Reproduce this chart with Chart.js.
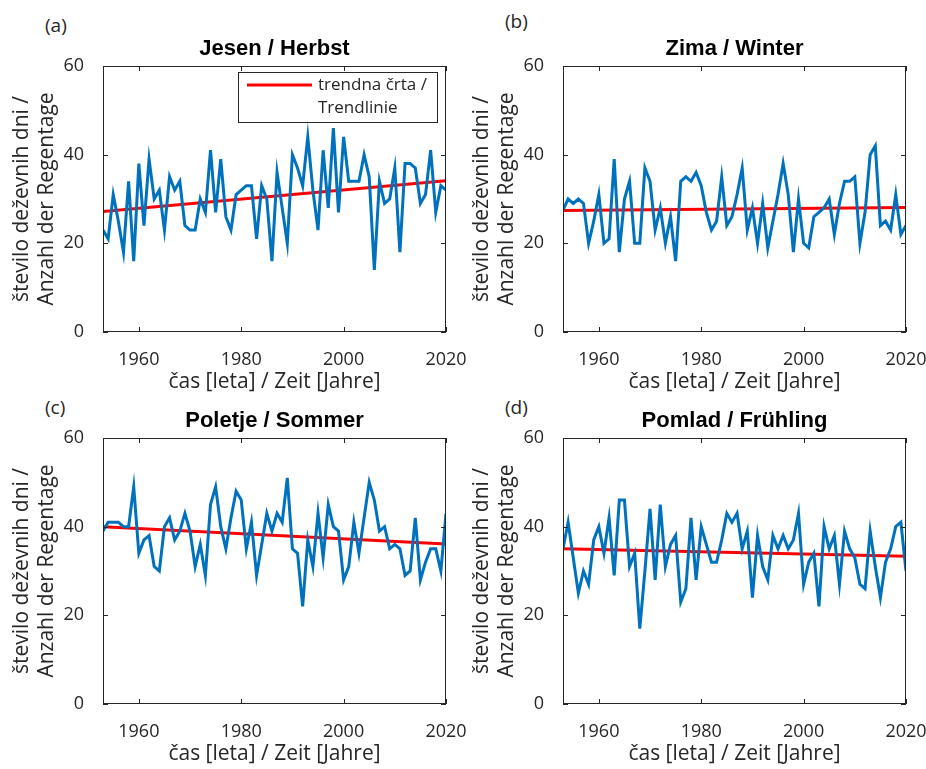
<!DOCTYPE html>
<html>
<head>
<meta charset="utf-8">
<script src="https://cdn.jsdelivr.net/npm/chart.js@4.4.1/dist/chart.umd.min.js"></script>
<style>
  body { margin: 0; background: #fff; width: 926px; height: 769px; position: relative; overflow: hidden; }
  canvas { position: absolute; }
  .lbl { position: absolute; font-family: "Open Sans", sans-serif; font-size: 19px; line-height: 1; color: #262626; }
</style>
</head>
<body>
<div class="lbl" style="left:45px;top:16px">(a)</div>
<div class="lbl" style="left:505px;top:12px">(b)</div>
<div class="lbl" style="left:45px;top:398px">(c)</div>
<div class="lbl" style="left:505px;top:398px">(d)</div>
<canvas id="jesen" width="480" height="397" style="left:0;top:0"></canvas>
<canvas id="zima" width="480" height="397" style="left:460px;top:0"></canvas>
<canvas id="poletje" width="480" height="397" style="left:0;top:372px"></canvas>
<canvas id="pomlad" width="480" height="397" style="left:460px;top:372px"></canvas>
<script>
const years = [1953, 1954, 1955, 1956, 1957, 1958, 1959, 1960, 1961, 1962,
  1963, 1964, 1965, 1966, 1967, 1968, 1969, 1970, 1971, 1972,
  1973, 1974, 1975, 1976, 1977, 1978, 1979, 1980, 1981, 1982,
  1983, 1984, 1985, 1986, 1987, 1988, 1989, 1990, 1991, 1992,
  1993, 1994, 1995, 1996, 1997, 1998, 1999, 2000, 2001, 2002,
  2003, 2004, 2005, 2006, 2007, 2008, 2009, 2010, 2011, 2012,
  2013, 2014, 2015, 2016, 2017, 2018, 2019, 2020];

// rainy days per season
const jesen = [23, 21, 31, 25, 18, 34, 16, 38, 24, 39,
  30, 32, 23, 35, 32, 34, 24, 23, 23, 30,
  27, 41, 27, 39, 26, 23, 31, 32, 33, 33,
  21, 33, 30, 16, 36, 28, 20, 40, 37, 33,
  44, 32, 23, 41, 28, 46, 27, 44, 34, 34,
  34, 40, 35, 14, 34, 29, 30, 37, 18, 38,
  38, 37, 29, 31, 41, 27, 33, 32];
const zima = [27.5, 30, 29, 30, 29, 20, 25, 31, 20, 21,
  39, 18, 30, 34, 20, 20, 37, 34, 23, 28,
  20, 26, 16, 34, 35, 34, 36, 33, 27, 23,
  25, 35, 24, 26, 31, 37, 23, 28, 20, 29,
  19, 25, 31, 38, 31, 18, 30, 20, 19, 26,
  27, 28, 30, 22, 29, 34, 34, 35, 20, 27,
  40, 42, 24, 25, 23, 31, 22, 24];
const poletje = [39, 41, 41, 41, 40, 40, 49, 34, 37, 38,
  31, 30, 40, 42, 37, 39, 43, 39, 31, 36,
  29, 45, 49, 40, 35, 42, 48, 46, 35, 41,
  29, 36, 43, 39, 43, 41, 51, 35, 34, 22,
  37, 31, 43, 33, 45, 40, 39, 28, 31, 41,
  34, 42, 50, 46, 39, 40, 35, 36, 35, 29,
  30, 42, 28, 32, 35, 35, 30, 43];
const pomlad = [35, 41, 33, 25, 30, 27, 37, 40, 34, 42,
  29, 46, 46, 31, 34, 17, 30, 44, 28, 45,
  31, 36, 38, 23, 26, 42, 28, 40, 36, 32,
  32, 37, 43, 41, 43, 35, 39, 24, 38, 31,
  28, 38, 35, 38, 35, 37, 43, 27, 32, 34,
  22, 40, 35, 38, 27, 39, 35, 33, 27, 26,
  39, 31, 24, 32, 35, 40, 41, 30];

// trend line end points (1953, 2020)
const trendYears = [1953, 2020];
const trendJesen = [27.2, 34.1];
const trendZima = [27.4, 28.1];
const trendPoletje = [40.0, 36.1];
const trendPomlad = [35.0, 33.3];

const xTicks = [1960, 1980, 2000, 2020];
const yTicks = [0, 20, 40, 60];

const titles = ['Jesen / Herbst', 'Zima / Winter', 'Poletje / Sommer', 'Pomlad / Frühling'];
const xTitle = 'čas [leta] / Zeit [Jahre]';
const yTitle = ['število deževnih dni /', 'Anzahl der Regentage'];
const legendText = ['trendna črta /', 'Trendlinie'];

const lineBlue = '#0072BD';
const trendRed = '#FF0000';
const axisColor = '#262626';
const fontFam = '"Open Sans", sans-serif';

// box round the axes with inward ticks, like the original figure
const boxTicks = {
  id: 'boxTicks',
  afterDatasetsDraw(chart) {
    const { ctx, chartArea: a, scales: { x, y } } = chart;
    ctx.save();
    ctx.strokeStyle = axisColor;
    ctx.lineWidth = 1;
    ctx.strokeRect(Math.round(a.left) + 0.5, Math.round(a.top) + 0.5,
      Math.round(a.width) - 1, Math.round(a.height) - 1);
    ctx.beginPath();
    x.ticks.forEach(t => {
      const px = Math.round(x.getPixelForValue(t.value)) + 0.5;
      ctx.moveTo(px, a.bottom); ctx.lineTo(px, a.bottom - 5);
      ctx.moveTo(px, a.top); ctx.lineTo(px, a.top + 5);
    });
    y.ticks.forEach(t => {
      const py = Math.round(y.getPixelForValue(t.value)) + 0.5;
      ctx.moveTo(a.left, py); ctx.lineTo(a.left + 5, py);
      ctx.moveTo(a.right, py); ctx.lineTo(a.right - 5, py);
    });
    ctx.stroke();
    ctx.restore();
  }
};

const trendLegend = {
  id: 'trendLegend',
  afterDraw(chart) {
    const { ctx, chartArea: a } = chart;
    const w = 199, h = 50;
    const left = Math.round(a.right - 9 - w), top = Math.round(a.top + 6);
    ctx.save();
    ctx.fillStyle = '#fff';
    ctx.fillRect(left, top, w, h);
    ctx.strokeStyle = axisColor;
    ctx.lineWidth = 1;
    ctx.strokeRect(left + 0.5, top + 0.5, w, h);
    ctx.strokeStyle = trendRed;
    ctx.lineWidth = 3;
    ctx.beginPath();
    ctx.moveTo(left + 9, top + 13);
    ctx.lineTo(left + 74, top + 13);
    ctx.stroke();
    ctx.fillStyle = axisColor;
    ctx.font = '17px ' + fontFam;
    ctx.textBaseline = 'middle';
    ctx.fillText(legendText[0], left + 80, top + 13);
    ctx.fillText(legendText[1], left + 80, top + 36);
    ctx.restore();
  }
};

function makeChart(id, title, vals, trend, withLegend) {
  const plugins = [boxTicks];
  if (withLegend) plugins.push(trendLegend);
  return new Chart(document.getElementById(id), {
    type: 'line',
    data: {
      datasets: [{
        data: years.map((yr, i) => ({ x: yr, y: vals[i] })),
        borderColor: lineBlue,
        borderWidth: 3,
        pointRadius: 0,
        tension: 0
      }, {
        data: trendYears.map((yr, i) => ({ x: yr, y: trend[i] })),
        borderColor: trendRed,
        borderWidth: 3,
        pointRadius: 0
      }]
    },
    options: {
      responsive: false,
      animation: false,
      events: [],
      layout: { padding: { top: 36, right: 34, left: 0, bottom: 0 } },
      plugins: {
        legend: { display: false },
        tooltip: { enabled: false },
        title: {
          display: true,
          text: title,
          fullSize: false,
          color: '#000',
          font: { family: '"Liberation Sans", Arial, sans-serif', size: 22, weight: 'bold', lineHeight: 1.2 },
          padding: { top: 0, bottom: 3.6 }
        }
      },
      scales: {
        x: {
          type: 'linear',
          min: 1953,
          max: 2020,
          afterBuildTicks: s => { s.ticks = xTicks.map(v => ({ value: v })); },
          afterFit: s => { s.height = 65; },
          grid: { display: false },
          border: { display: false },
          ticks: {
            color: axisColor,
            padding: 9,
            maxRotation: 0,
            autoSkip: false,
            font: { family: fontFam, size: 18, lineHeight: 1.2 },
            callback: v => String(v)
          },
          title: {
            display: true,
            text: xTitle,
            color: axisColor,
            font: { family: fontFam, size: 21, lineHeight: 1.2 },
            padding: { top: 0, bottom: 2 }
          }
        },
        y: {
          min: 0,
          max: 60,
          afterBuildTicks: s => { s.ticks = yTicks.map(v => ({ value: v })); },
          afterFit: s => { s.width = 103; },
          grid: { display: false },
          border: { display: false },
          ticks: {
            color: axisColor,
            padding: 11,
            font: { family: fontFam, size: 18, lineHeight: 1.2 }
          },
          title: {
            display: true,
            text: yTitle,
            color: axisColor,
            font: { family: fontFam, size: 21, lineHeight: 1.2 },
            padding: { top: 9, bottom: 0 }
          }
        }
      }
    },
    plugins: plugins
  });
}

makeChart('jesen', titles[0], jesen, trendJesen, true);
makeChart('zima', titles[1], zima, trendZima, false);
makeChart('poletje', titles[2], poletje, trendPoletje, false);
makeChart('pomlad', titles[3], pomlad, trendPomlad, false);
</script>
</body>
</html>
